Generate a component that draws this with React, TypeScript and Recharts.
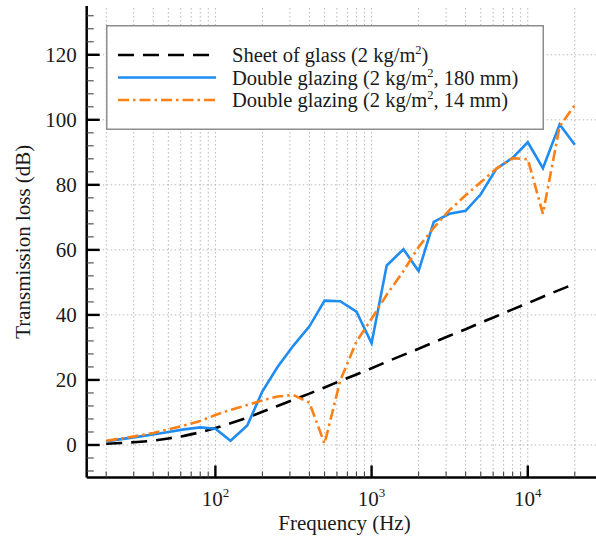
import React from 'react';
import { LineChart, Line, XAxis, YAxis, ReferenceLine, Legend } from 'recharts';

// ---------- data ----------
const frequencies = [20, 25, 31.5, 40, 50, 63, 80, 100, 125, 160, 200, 250, 315, 400, 500, 630, 800, 1000, 1250, 1600, 2000, 2500, 3150, 4000, 5000, 6300, 8000, 10000, 12500, 16000, 20000];
const sheetOfGlass = [0.4, 0.6, 0.9, 1.3, 2.0, 2.8, 3.9, 5.2, 6.7, 8.4, 10.2, 12.0, 13.9, 15.8, 17.7, 19.7, 21.7, 23.6, 25.6, 27.7, 29.6, 31.6, 33.6, 35.6, 37.6, 39.6, 41.7, 43.6, 45.6, 47.7, 49.6];
const glazing180mm = [1.1, 1.8, 2.5, 3.2, 4.0, 4.8, 5.4, 5.0, 1.3, 6.0, 16.5, 24.0, 30.5, 36.5, 44.4, 44.2, 41.0, 31.3, 55.2, 60.2, 53.5, 68.6, 71.1, 72.0, 77.1, 85.0, 88.3, 93.1, 85.1, 98.6, 92.3];
const glazing14mm = [1.3, 2.0, 2.8, 3.7, 4.8, 6.0, 7.4, 9.2, 10.8, 12.3, 13.7, 14.9, 15.4, 13.0, 0.4, 19.8, 31.8, 38.8, 46.2, 53.5, 60.9, 66.8, 72.2, 76.8, 80.8, 85.0, 88.2, 87.9, 71.1, 98.0, 104.5];

const xMajorTicks = [100, 1000, 10000];
const xMajorExponents = ['2', '3', '4'];
const xMinorTicks = [20, 30, 40, 50, 60, 70, 80, 90, 200, 300, 400, 500, 600, 700, 800, 900, 2000, 3000, 4000, 5000, 6000, 7000, 8000, 9000, 20000];
const yMajorTicks = [0, 20, 40, 60, 80, 100, 120];
const yMajorLabels = ['0', '20', '40', '60', '80', '100', '120'];
const yMinorTicks = [-8, -4, 4, 8, 12, 16, 24, 28, 32, 36, 44, 48, 52, 56, 64, 68, 72, 76, 84, 88, 92, 96, 104, 108, 112, 116, 124, 128, 132];

const seriesNames = ['Sheet of glass', 'Double glazing', 'Double glazing'];
const seriesSuffix = [')', ', 180 mm)', ', 14 mm)'];

const rows = frequencies.map((f, i) => ({
  f,
  sheet: sheetOfGlass[i],
  g180: glazing180mm[i],
  g14: glazing14mm[i],
}));

const allXTicks = [...xMajorTicks, ...xMinorTicks].sort((a, b) => a - b);
const allYTicks = [...yMajorTicks, ...yMinorTicks].sort((a, b) => a - b);

const FONT = '"Liberation Serif", "Times New Roman", Times, serif';
const TEXT = '#1a1a1a';
const BLUE = '#1e8cf0';
const ORANGE = '#fb8016';
const BLACK_DASH = '16 9';
const ORANGE_DASH = '11 4 2.5 4';
const GRID = '#b8b8b8';

const BottomTick = (props: any) => {
  const { x, y, payload } = props;
  const v = payload.value;
  const idx = xMajorTicks.indexOf(v);
  const major = idx >= 0;
  return (
    <g>
      <line x1={x} x2={x} y1={y} y2={y - (major ? 12 : 6)} stroke={major ? '#000' : '#444'} strokeWidth={major ? 2.4 : 1.1} />
      {major && (
        <text x={x} y={y + 28} textAnchor="middle" fontFamily={FONT} fontSize={21} fill={TEXT}>
          10<tspan dy={-9} fontSize={13}>{xMajorExponents[idx]}</tspan>
        </text>
      )}
    </g>
  );
};

const TopTick = (props: any) => {
  const { x, y, payload } = props;
  const major = xMajorTicks.includes(payload.value);
  return <line x1={x} x2={x} y1={y} y2={y + (major ? 12 : 6)} stroke={major ? '#000' : '#444'} strokeWidth={major ? 2.4 : 1.1} />;
};

const LeftTick = (props: any) => {
  const { x, y, payload } = props;
  const idx = yMajorTicks.indexOf(payload.value);
  const major = idx >= 0;
  return (
    <g>
      <line x1={x} x2={x + (major ? 13 : 7)} y1={y} y2={y} stroke={major ? '#000' : '#444'} strokeWidth={major ? 2.4 : 1.1} />
      {major && (
        <text x={x - 10} y={y + 7} textAnchor="end" fontFamily={FONT} fontSize={21} fill={TEXT}>
          {yMajorLabels[idx]}
        </text>
      )}
    </g>
  );
};

const RightTick = (props: any) => {
  const { x, y, payload } = props;
  const major = yMajorTicks.includes(payload.value);
  return <line x1={x} x2={x - (major ? 13 : 7)} y1={y} y2={y} stroke={major ? '#000' : '#444'} strokeWidth={major ? 2.4 : 1.1} />;
};

const XTitle = (props: any) => {
  const vb = props.viewBox || {};
  const cx = (vb.x ?? 87) + (vb.width ?? 515) / 2;
  const top = vb.y ?? 477;
  return (
    <text x={cx} y={top + 52} textAnchor="middle" fontFamily={FONT} fontSize={21} fill={TEXT}>
      Frequency (Hz)
    </text>
  );
};

const YTitle = (props: any) => {
  const vb = props.viewBox || {};
  const cy = (vb.y ?? 6) + (vb.height ?? 471) / 2;
  const bx = 30;
  return (
    <text x={bx} y={cy} transform={`rotate(-90, ${bx}, ${cy})`} textAnchor="middle" fontFamily={FONT} fontSize={21} fill={TEXT}>
      Transmission loss (dB)
    </text>
  );
};

const LegendBox = () => {
  const samples = [
    { stroke: '#000', dash: BLACK_DASH },
    { stroke: BLUE, dash: undefined },
    { stroke: ORANGE, dash: ORANGE_DASH },
  ];
  const rowY = [30, 52.5, 75];
  return (
    <svg width={438} height={105} style={{ display: 'block' }}>
      <rect x={0.75} y={0.75} width={436.5} height={103.5} fill="#fff" stroke="#8c8c8c" strokeWidth={1.5} />
      {samples.map((s, i) => (
        <g key={i}>
          <line x1={12} x2={110} y1={rowY[i]} y2={rowY[i]} stroke={s.stroke} strokeWidth={2.6} strokeDasharray={s.dash} />
          <text x={126} y={rowY[i] + 7} fontFamily={FONT} fontSize={20.5} fill={TEXT}>
            {seriesNames[i]} (2 kg/m<tspan dy={-8} fontSize={12.5}>2</tspan>
            <tspan dy={8}>{seriesSuffix[i]}</tspan>
          </text>
        </g>
      ))}
    </svg>
  );
};

export default function App() {
  return (
    <div style={{ position: 'absolute', left: 0, top: 0, width: 596, height: 538, overflow: 'hidden', background: '#fff' }}>
      <LineChart width={620} height={538} data={rows} margin={{ top: 6, right: 17.7, bottom: 0, left: 0 }}>
        <XAxis
          xAxisId="bottom"
          dataKey="f"
          type="number"
          scale="log"
          domain={[15, 30000]}
          allowDataOverflow
          ticks={allXTicks}
          interval={0}
          height={60.5}
          tickSize={0}
          tickMargin={0}
          tickLine={false}
          axisLine={{ stroke: '#000', strokeWidth: 2.5 }}
          tick={<BottomTick />}
          label={XTitle}
        />
        <XAxis
          xAxisId="top"
          orientation="top"
          dataKey="f"
          type="number"
          scale="log"
          domain={[15, 30000]}
          allowDataOverflow
          ticks={allXTicks}
          interval={0}
          height={0}
          tickSize={0}
          tickMargin={0}
          tickLine={false}
          axisLine={{ stroke: '#000', strokeWidth: 2.5 }}
          tick={<TopTick />}
        />
        <YAxis
          yAxisId="left"
          type="number"
          domain={[-10, 135]}
          allowDataOverflow
          ticks={allYTicks}
          interval={0}
          width={86.7}
          tickSize={0}
          tickMargin={0}
          tickLine={false}
          axisLine={{ stroke: '#000', strokeWidth: 2.5 }}
          tick={<LeftTick />}
          label={YTitle}
        />
        <YAxis
          yAxisId="right"
          orientation="right"
          type="number"
          domain={[-10, 135]}
          allowDataOverflow
          ticks={allYTicks}
          interval={0}
          width={0}
          tickSize={0}
          tickMargin={0}
          tickLine={false}
          axisLine={{ stroke: '#000', strokeWidth: 2.5 }}
          tick={<RightTick />}
        />
        {allXTicks.map((v) => (
          <ReferenceLine key={`vx${v}`} x={v} xAxisId="bottom" yAxisId="left" stroke={GRID} strokeWidth={1} strokeDasharray="1.5 2.5" />
        ))}
        {yMajorTicks.map((v) => (
          <ReferenceLine key={`hy${v}`} y={v} xAxisId="bottom" yAxisId="left" stroke={GRID} strokeWidth={1} strokeDasharray="1.5 2.5" />
        ))}
        <Line xAxisId="bottom" yAxisId="left" type="linear" dataKey="sheet" stroke="#000" strokeWidth={2.6} strokeDasharray={BLACK_DASH} dot={false} isAnimationActive={false} />
        <Line xAxisId="bottom" yAxisId="left" type="linear" dataKey="g180" stroke={BLUE} strokeWidth={2.6} dot={false} isAnimationActive={false} />
        <Line xAxisId="bottom" yAxisId="left" type="linear" dataKey="g14" stroke={ORANGE} strokeWidth={2.6} strokeDasharray={ORANGE_DASH} dot={false} isAnimationActive={false} />
        <Legend
          layout="vertical"
          align="center"
          verticalAlign="middle"
          width={438}
          height={105}
          wrapperStyle={{ position: 'absolute', left: 106, top: 25, width: 438, height: 105 }}
          content={() => <LegendBox />}
        />
      </LineChart>
    </div>
  );
}
